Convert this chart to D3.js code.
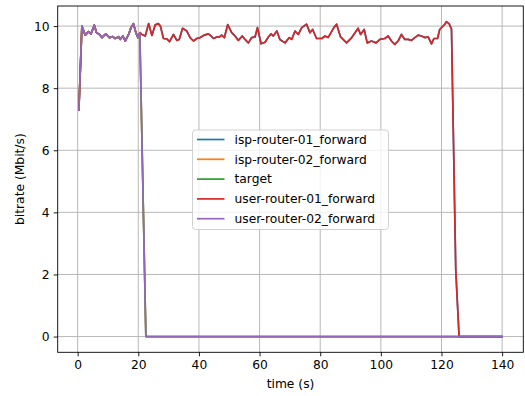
<!DOCTYPE html>
<html>
<head>
<meta charset="utf-8">
<script src="https://cdn.jsdelivr.net/npm/d3@7"></script>
<style>
  html, body { margin: 0; padding: 0; background: #fff; }
  svg { display: block; font-family: "DejaVu Sans", sans-serif; }
</style>
</head>
<body>
<svg id="chart" width="525" height="396"></svg>
<script>
// ---- data ----
const seriesNames = ["isp-router-01_forward", "isp-router-02_forward", "target", "user-router-01_forward", "user-router-02_forward"];
const seriesColors = ["#1f77b4", "#ff7f0e", "#2ca02c", "#d62728", "#9467bd"];

const timeUser01 = [0.4, 1.4, 2.5, 3.6, 4.4, 5.5, 6.2, 7.2, 8.0, 9.3, 10.5, 11.6, 12.4, 13.5, 14.0, 14.9, 15.7, 16.8, 17.6, 18.4, 19.2, 19.9, 20.6, 21.2, 22.3, 23.4, 24.5, 25.6, 26.6, 27.3, 28.3, 29.4, 30.3, 31.6, 32.7, 33.5, 34.6, 36.0, 37.1, 38.2, 39.3, 40.4, 41.8, 43.1, 43.7, 44.8, 45.9, 46.8, 47.5, 48.4, 49.5, 50.8, 51.9, 53.0, 54.3, 55.2, 56.3, 57.4, 58.5, 59.3, 60.5, 61.8, 62.9, 63.8, 64.5, 65.7, 66.7, 68.4, 69.8, 70.6, 71.7, 72.8, 73.9, 75.5, 76.6, 77.5, 78.8, 80.5, 81.6, 82.6, 84.5, 85.4, 86.7, 88.7, 90.4, 92.5, 93.3, 94.5, 95.5, 96.9, 98.4, 99.7, 101.3, 102.4, 103.5, 104.6, 105.7, 106.8, 107.9, 109.0, 110.1, 111.2, 112.3, 113.4, 114.5, 115.6, 116.7, 117.5, 118.7, 119.4, 120.2, 121.1, 121.6, 122.5, 123.3, 124.7, 125.8, 130, 135, 140];
const userRouter01 = [7.3, 10.0, 9.71, 9.82, 9.75, 10.03, 9.79, 9.73, 9.63, 9.75, 9.63, 9.66, 9.6, 9.66, 9.57, 9.68, 9.52, 9.73, 9.95, 10.08, 9.79, 9.63, 9.79, 9.73, 9.68, 10.08, 9.7, 10.04, 10.08, 10.0, 9.6, 9.59, 9.5, 9.73, 9.54, 9.57, 9.93, 9.84, 9.63, 9.52, 9.6, 9.63, 9.71, 9.75, 9.71, 9.6, 9.65, 9.65, 9.71, 9.63, 10.05, 9.79, 9.68, 9.54, 9.68, 9.57, 9.46, 9.63, 9.65, 9.95, 9.43, 9.48, 9.65, 9.75, 9.68, 9.84, 9.57, 9.46, 9.63, 9.57, 9.84, 9.73, 9.95, 10.06, 9.79, 9.89, 9.6, 9.6, 9.68, 9.63, 9.95, 10.06, 9.65, 9.46, 9.63, 9.93, 9.73, 9.89, 9.46, 9.52, 9.46, 9.57, 9.6, 9.68, 9.52, 9.41, 9.52, 9.73, 9.57, 9.57, 9.54, 9.63, 9.71, 9.68, 9.63, 9.65, 9.43, 9.6, 9.6, 9.89, 9.97, 10.06, 10.14, 10.08, 9.9, 2.15, 0, 0, 0, 0];

const timeUser02 = [0.4, 1.4, 2.5, 3.6, 4.4, 5.5, 6.2, 7.2, 8.0, 9.3, 10.5, 11.6, 12.4, 13.5, 14.0, 14.9, 15.7, 16.8, 17.6, 18.4, 19.2, 19.9, 20.5, 22.5, 30, 40, 50, 60, 70, 80, 90, 100, 110, 120, 130, 140];
const userRouter02 = [7.3, 10.0, 9.71, 9.82, 9.75, 10.03, 9.79, 9.73, 9.63, 9.75, 9.63, 9.66, 9.6, 9.66, 9.57, 9.68, 9.52, 9.73, 9.95, 10.08, 9.79, 9.63, 9.78, 0, 0, 0, 0, 0, 0, 0, 0, 0, 0, 0, 0, 0];

// hidden beneath the user-router lines in the reference
const ispRouter01 = userRouter01;
const ispRouter02 = userRouter02;
const targetValues = userRouter02;

const xTicks = [0, 20, 40, 60, 80, 100, 120, 140];
const yTicks = [0, 2, 4, 6, 8, 10];

const xLabel = "time (s)";
const yLabel = "bitrate (Mbit/s)";

// ---- build ----
const series = [
  { name: seriesNames[0], color: seriesColors[0], t: timeUser01, v: ispRouter01 },
  { name: seriesNames[1], color: seriesColors[1], t: timeUser02, v: ispRouter02 },
  { name: seriesNames[2], color: seriesColors[2], t: timeUser02, v: targetValues },
  { name: seriesNames[3], color: seriesColors[3], t: timeUser01, v: userRouter01 },
  { name: seriesNames[4], color: seriesColors[4], t: timeUser02, v: userRouter02 }
];

const svg = d3.select("#chart");
const W = 525, H = 396;
const m = { left: 57.7, right: 525 - 523.3, top: 6, bottom: 396 - 352.3 };
const iw = W - m.left - m.right, ih = H - m.top - m.bottom;

const allT = series.flatMap(s => s.t), allV = series.flatMap(s => s.v);
const [tMin, tMax] = d3.extent(allT), [vMin, vMax] = d3.extent(allV);
const tPad = (tMax - tMin) * 0.05, vPad = (vMax - vMin) * 0.05;

const x = d3.scaleLinear().domain([tMin - tPad, tMax + tPad]).range([m.left, m.left + iw]);
const y = d3.scaleLinear().domain([vMin - vPad, vMax + vPad]).range([m.top + ih, m.top]);

const g = svg.append("g");

// grid
g.append("g").selectAll("line").data(xTicks).join("line")
  .attr("x1", d => x(d)).attr("x2", d => x(d))
  .attr("y1", m.top).attr("y2", m.top + ih)
  .attr("stroke", "#b0b0b0").attr("stroke-width", 0.9);
g.append("g").selectAll("line").data(yTicks).join("line")
  .attr("y1", d => y(d)).attr("y2", d => y(d))
  .attr("x1", m.left).attr("x2", m.left + iw)
  .attr("stroke", "#b0b0b0").attr("stroke-width", 0.9);

// lines
const line = d3.line().x(d => x(d[0])).y(d => y(d[1]));
const plot = g.append("g");
series.forEach(s => {
  plot.append("path")
    .datum(s.t.map((t, i) => [t, s.v[i]]))
    .attr("d", line)
    .attr("fill", "none")
    .attr("stroke", s.color)
    .attr("stroke-width", 1.7)
    .attr("stroke-linejoin", "round")
    .attr("stroke-linecap", "square");
});

// axes
const xAxis = d3.axisBottom(x).tickValues(xTicks).tickSize(4).tickPadding(4).tickFormat(d3.format("d"));
const yAxis = d3.axisLeft(y).tickValues(yTicks).tickSize(4).tickPadding(4).tickFormat(d3.format("d"));

const gx = g.append("g").attr("transform", `translate(0,${m.top + ih})`).call(xAxis);
const gy = g.append("g").attr("transform", `translate(${m.left},0)`).call(yAxis);
[gx, gy].forEach(a => {
  a.select(".domain").remove();
  a.selectAll("line").attr("stroke", "#000").attr("stroke-width", 0.9);
  a.selectAll("text").attr("font-family", "DejaVu Sans").attr("font-size", 12.3).attr("fill", "#000");
});

// spines
g.append("rect").attr("x", m.left).attr("y", m.top).attr("width", iw).attr("height", ih)
  .attr("fill", "none").attr("stroke", "#000").attr("stroke-width", 0.9);

// axis labels
svg.append("text").attr("x", m.left + iw / 2).attr("y", 388)
  .attr("text-anchor", "middle").attr("font-size", 12.3).text(xLabel);
svg.append("text").attr("transform", `translate(24,${m.top + ih / 2}) rotate(-90)`)
  .attr("text-anchor", "middle").attr("font-size", 12.3).text(yLabel);

// legend
const lg = svg.append("g").attr("transform", "translate(192.5,130)");
lg.append("rect").attr("x", 0).attr("y", 0).attr("width", 196).attr("height", 99.5)
  .attr("rx", 3).attr("fill", "rgba(255,255,255,0.8)").attr("stroke", "#cccccc").attr("stroke-width", 0.9);
series.forEach((s, i) => {
  const cy = 9.5 + i * 19.8;
  lg.append("line").attr("x1", 4.5).attr("x2", 32).attr("y1", cy).attr("y2", cy)
    .attr("stroke", s.color).attr("stroke-width", 1.7);
  lg.append("text").attr("x", 42).attr("y", cy).attr("dy", "0.35em")
    .attr("font-size", 12.3).text(s.name);
});
</script>
</body>
</html>
